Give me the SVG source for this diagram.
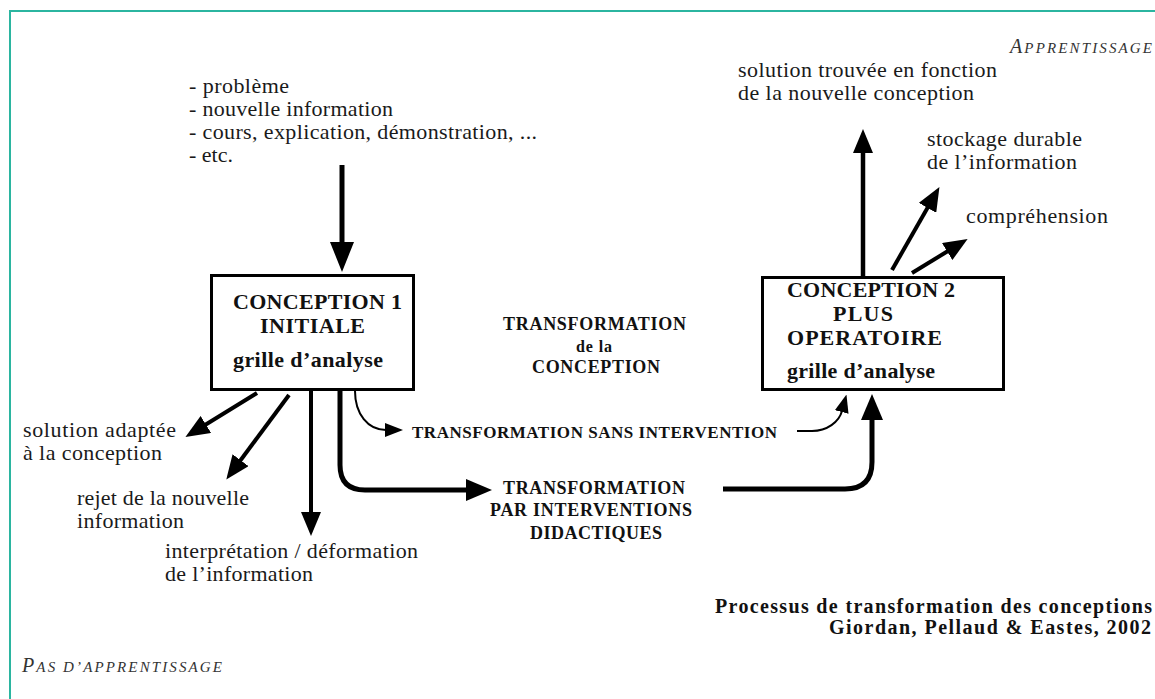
<svg xmlns="http://www.w3.org/2000/svg" width="1155" height="699" viewBox="0 0 1155 699">
<defs>
<style>
.t{font-family:"Liberation Serif","Times New Roman",serif;font-size:22px;fill:#1a1a1a}
.b{font-family:"Liberation Serif","Times New Roman",serif;font-weight:bold;fill:#111}
.i{font-family:"Liberation Serif","Times New Roman",serif;font-style:italic;fill:#333}
.ln{fill:none;stroke:#000;stroke-linejoin:round}
.box{fill:#fff;stroke:#000;stroke-width:3}
</style>
<marker id="hL" markerUnits="userSpaceOnUse" markerWidth="30" markerHeight="24" refX="1" refY="12" orient="auto" viewBox="0 0 30 24"><path d="M0,0 L30,12 L0,24 Z" fill="#000"/></marker>
<marker id="hM" markerUnits="userSpaceOnUse" markerWidth="24" markerHeight="20" refX="1" refY="10" orient="auto" viewBox="0 0 24 20"><path d="M0,0 L24,10 L0,20 Z" fill="#000"/></marker>
<marker id="hT" markerUnits="userSpaceOnUse" markerWidth="26" markerHeight="22" refX="1" refY="11" orient="auto" viewBox="0 0 26 22"><path d="M0,0 L26,11 L0,22 Z" fill="#000"/></marker>
<marker id="hS" markerUnits="userSpaceOnUse" markerWidth="18" markerHeight="14" refX="1" refY="7" orient="auto" viewBox="0 0 18 14"><path d="M0,0 L18,7 L0,14 Z" fill="#000"/></marker>
</defs>
<rect x="0" y="0" width="1155" height="699" fill="#fff"/>
<path d="M10,699 V11 H1155" fill="none" stroke="#2bb5a0" stroke-width="2"/>

<g id="connectors">
<path class="ln" stroke-width="5" d="M342,165 V243" marker-end="url(#hL)"/>
<path class="ln" stroke-width="4" d="M257,393 L205,425" marker-end="url(#hM)"/>
<path class="ln" stroke-width="4" d="M289,395 L240,461" marker-end="url(#hM)"/>
<path class="ln" stroke-width="4" d="M311,391 V513" marker-end="url(#hM)"/>
<path class="ln" stroke-width="2" d="M355,391 C355,414 368,430 386,430" marker-end="url(#hS)"/>
<path class="ln" stroke-width="2" d="M797,431 L812,431 C827,431 839,422 842,411" marker-end="url(#hS)"/>
<path class="ln" stroke-width="5" d="M340,391 V465 Q340,490 365,490 H467" marker-end="url(#hT)"/>
<path class="ln" stroke-width="5" d="M723,489 H845 Q872,489 872,462 V419" marker-end="url(#hT)"/>
<path class="ln" stroke-width="4.5" d="M863,276 V152" marker-end="url(#hM)"/>
<path class="ln" stroke-width="4" d="M892,270 L928,207" marker-end="url(#hM)"/>
<path class="ln" stroke-width="4" d="M912,273 L948,251" marker-end="url(#hM)"/>
</g>

<g id="inputs">
<text class="t" x="189" y="93" textLength="100">- problème</text>
<text class="t" x="189" y="116" textLength="204">- nouvelle information</text>
<text class="t" x="189" y="139" textLength="348">- cours, explication, démonstration, ...</text>
<text class="t" x="189" y="162" textLength="44">- etc.</text>
</g>

<g id="conception1">
<rect class="box" x="211.5" y="275.5" width="202" height="114"/>
<text class="b" font-size="22" x="233" y="309" textLength="169">CONCEPTION 1</text>
<text class="b" font-size="22" x="260" y="333" textLength="105">INITIALE</text>
<text class="b" font-size="22" x="233" y="367" textLength="150">grille d’analyse</text>
</g>

<g id="conception2">
<rect class="box" x="762.5" y="277.5" width="241" height="112"/>
<text class="b" font-size="22" x="787" y="297" textLength="168">CONCEPTION 2</text>
<text class="b" font-size="22" x="833" y="321" textLength="60">PLUS</text>
<text class="b" font-size="22" x="787" y="345" textLength="155">OPERATOIRE</text>
<text class="b" font-size="22" x="787" y="378" textLength="148">grille d’analyse</text>
</g>

<g id="transformation-label">
<text class="b" font-size="18" x="503" y="330" textLength="183">TRANSFORMATION</text>
<text class="b" font-size="16" x="576" y="352" textLength="36">de la</text>
<text class="b" font-size="18" x="532" y="373" textLength="128">CONCEPTION</text>
</g>

<g id="sans-intervention">
<text class="b" font-size="17" x="412" y="438" textLength="365">TRANSFORMATION SANS INTERVENTION</text>
</g>

<g id="interventions">
<text class="b" font-size="18" x="503" y="494" textLength="182">TRANSFORMATION</text>
<text class="b" font-size="18" x="490" y="516" textLength="202">PAR INTERVENTIONS</text>
<text class="b" font-size="18" x="530" y="539" textLength="132">DIDACTIQUES</text>
</g>

<g id="outcomes-learning">
<text class="i" x="1010" y="53" textLength="142"><tspan font-size="20">A</tspan><tspan font-size="15">PPRENTISSAGE</tspan></text>
<text class="t" x="738" y="77" textLength="259">solution trouvée en fonction</text>
<text class="t" x="738" y="100" textLength="236">de la nouvelle conception</text>
<text class="t" x="927" y="146" textLength="155">stockage durable</text>
<text class="t" x="927" y="169" textLength="150">de l’information</text>
<text class="t" x="966" y="223" textLength="142">compréhension</text>
</g>

<g id="outcomes-no-learning">
<text class="t" x="23" y="437" textLength="153">solution adaptée</text>
<text class="t" x="23" y="460" textLength="139">à la conception</text>
<text class="t" x="77" y="505" textLength="172">rejet de la nouvelle</text>
<text class="t" x="77" y="528" textLength="107">information</text>
<text class="t" x="165" y="558" textLength="253">interprétation / déformation</text>
<text class="t" x="165" y="581" textLength="148">de l’information</text>
<text class="i" x="22" y="672" textLength="200"><tspan font-size="20">P</tspan><tspan font-size="15">AS D’APPRENTISSAGE</tspan></text>
</g>

<g id="caption">
<text class="b" font-size="20" x="715" y="613" textLength="437">Processus de transformation des conceptions</text>
<text class="b" font-size="20" x="829" y="634" textLength="322">Giordan, Pellaud &amp; Eastes, 2002</text>
</g>
</svg>
